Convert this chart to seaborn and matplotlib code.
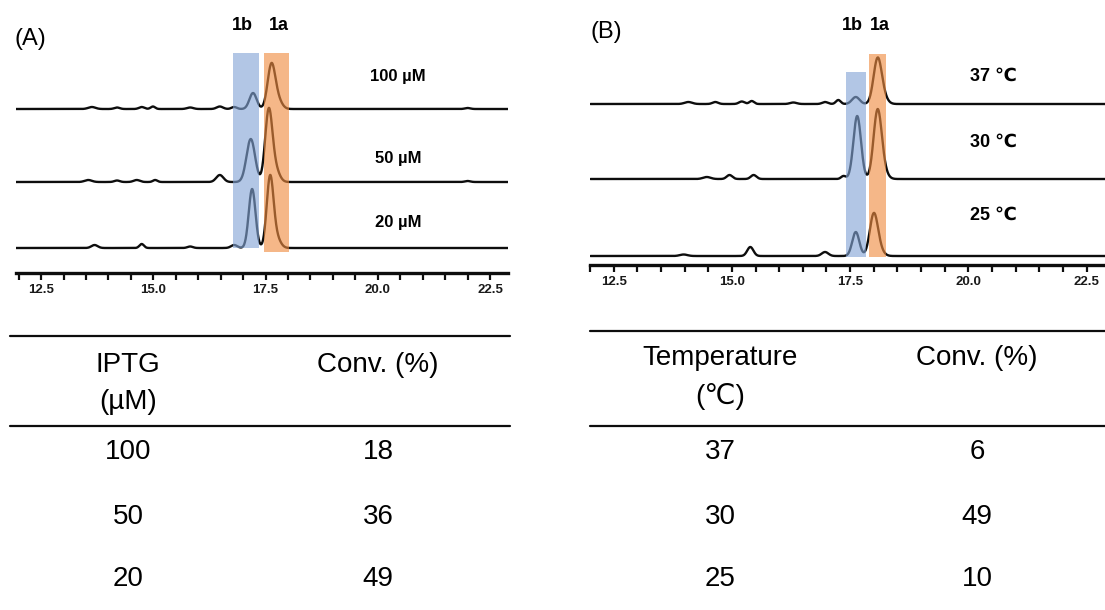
import numpy as np
import pandas as pd
import matplotlib
matplotlib.use("Agg")
import matplotlib.pyplot as plt
from matplotlib.lines import Line2D
import seaborn as sns

# ------------------------------------------------------------------ data
tick_major = [12.5, 15.0, 17.5, 20.0, 22.5]

# Panel A: chromatograms at different IPTG concentrations
A_labels = ["100 µM", "50 µM", "20 µM"]
A_baseline = [164, 91, 25]
A_rt = [
    [13.63, 14.19, 14.74, 14.99, 15.82, 16.48, 16.80, 17.22, 17.63, 17.78, 22.0],
    [13.55, 14.19, 14.63, 15.04, 16.48, 17.17, 17.57, 17.72, 22.0],
    [13.69, 14.74, 15.82, 16.80, 17.20, 17.60, 17.74],
]
A_height = [
    [2.0, 1.5, 2.0, 2.5, 1.5, 2.5, 2.0, 16, 44, 8, 1.0],
    [2.0, 1.5, 2.0, 2.0, 7.0, 43, 71, 12, 1.0],
    [3.0, 4.0, 1.5, 3.0, 59, 70, 10],
]
A_width = [
    [0.08, 0.06, 0.06, 0.05, 0.07, 0.07, 0.06, 0.08, 0.085, 0.09, 0.06],
    [0.08, 0.06, 0.07, 0.05, 0.08, 0.095, 0.08, 0.09, 0.06],
    [0.07, 0.05, 0.06, 0.07, 0.075, 0.075, 0.09],
]
A_band_1b = [16.77, 17.35, 25, 220]
A_band_1a = [17.46, 18.02, 21, 220]
A_iptg = ["100", "50", "20"]
A_conv = ["18", "36", "49"]

# Panel B: chromatograms at different temperatures
B_labels = ["37 ℃", "30 ℃", "25 ℃"]
B_baseline = [161, 86, 9]
B_rt = [
    [14.08, 14.65, 15.21, 15.42, 16.30, 16.97, 17.25, 17.62, 18.08, 18.20],
    [14.47, 14.95, 15.46, 17.36, 17.65, 18.08, 18.20],
    [13.98, 15.39, 16.97, 17.62, 18.00, 18.12],
]
B_height = [
    [2.0, 2.0, 2.5, 3.0, 1.5, 2.0, 4.0, 7, 44, 6],
    [2.0, 4.0, 4.0, 3.0, 63, 67, 7],
    [1.5, 9.0, 4.0, 24, 41, 5],
]
B_width = [
    [0.08, 0.06, 0.06, 0.05, 0.07, 0.06, 0.05, 0.08, 0.085, 0.09],
    [0.08, 0.06, 0.06, 0.05, 0.08, 0.085, 0.09],
    [0.08, 0.065, 0.07, 0.075, 0.085, 0.09],
]
B_band_1b = [17.42, 17.84, 8, 193]
B_band_1a = [17.90, 18.26, 8, 211]
B_temp = ["37", "30", "25"]
B_conv = ["6", "49", "10"]

# ------------------------------------------------------------------ style
sns.set_theme(style="ticks")
plt.rcParams["font.family"] = ["Liberation Sans", "DejaVu Sans"]
plt.rcParams["text.color"] = "black"
plt.rcParams["xtick.color"] = "black"
plt.rcParams["xtick.labelcolor"] = "black"

W, H = 1105, 610
fig = plt.figure(figsize=(W / 100, H / 100), dpi=100)
fig.patch.set_facecolor("white")


def fx(x):
    return x / W


def fy(y):
    return 1 - y / H


def txt(x, y, s, **kw):
    fig.text(fx(x), fy(y), s, ha="center", va="center", color="black", **kw)


BLUE = "#83A4D5"
ORANGE = "#F08C40"


def chrom_panel(rect_px, xlim, ylim, baselines, rts, hs, ws, band_b, band_a):
    left, top, right, bottom = rect_px
    ax = fig.add_axes([fx(left), fy(bottom), (right - left) / W, (bottom - top) / H])
    xs = np.linspace(xlim[0], xlim[1], 2000)
    frames = []
    for i, (b, rt, h, w) in enumerate(zip(baselines, rts, hs, ws)):
        sig = np.full_like(xs, float(b))
        for r, hh, ww in zip(rt, h, w):
            sig = sig + hh * np.exp(-0.5 * ((xs - r) / ww) ** 2)
        frames.append(pd.DataFrame({"t": xs, "s": sig, "trace": i}))
    df = pd.concat(frames)
    sns.lineplot(data=df, x="t", y="s", units="trace", estimator=None,
                 color="#0d0d0d", lw=1.7, ax=ax, sort=False, legend=False)
    for band, col in ((band_b, BLUE), (band_a, ORANGE)):
        ax.fill_between([band[0], band[1]], [band[2]] * 2, [band[3]] * 2,
                        color=col, alpha=0.62, lw=0, zorder=5)
    ax.set_xlim(*xlim)
    ax.set_ylim(*ylim)
    ax.set_xlabel("")
    ax.set_ylabel("")
    ax.set_yticks([])
    sns.despine(ax=ax, left=True)
    ax.spines["bottom"].set_linewidth(2.4)
    ax.spines["bottom"].set_color("#0d0d0d")
    ticks = np.arange(12.0, 23.0, 0.5)
    ax.set_xticks(ticks)
    ax.set_xticklabels([f"{t:.1f}" if t in tick_major else "" for t in ticks])
    ax.tick_params(axis="x", direction="out", length=5, width=1.6, pad=3,
                   labelsize=9.5, bottom=True, color="#0d0d0d", labelcolor="#1a1a1a")
    for lb in ax.get_xticklabels():
        lb.set_fontweight("bold")
    ax.set_facecolor("none")
    return ax


# Panel A chromatogram
chrom_panel((16, 20, 508, 273), (11.94, 22.90), (0, 253),
            A_baseline, A_rt, A_height, A_width, A_band_1b, A_band_1a)
# Panel B chromatogram
chrom_panel((590, 20, 1105, 265), (12.01, 22.89), (0, 245),
            B_baseline, B_rt, B_height, B_width, B_band_1b, B_band_1a)

# panel letters and peak names
txt(30, 39, "(A)", fontsize=17)
txt(606, 32, "(B)", fontsize=17)
txt(242, 26, "1b", fontsize=13, fontweight="bold")
txt(279, 26, "1a", fontsize=13, fontweight="bold")
txt(852, 25, "1b", fontsize=13, fontweight="bold")
txt(880, 25, "1a", fontsize=13, fontweight="bold")

for lab, y in zip(A_labels, [77, 158, 222]):
    txt(398, y, lab, fontsize=12, fontweight="bold")
for lab, y in zip(B_labels, [76, 142, 215]):
    txt(993, y, lab, fontsize=13, fontweight="bold")

# ------------------------------------------------------------------ tables
def hline(x0, x1, y):
    fig.add_artist(Line2D([fx(x0), fx(x1)], [fy(y), fy(y)], color="#0d0d0d", lw=1.6))


TS = 20
# table A
hline(10, 510, 336)
hline(10, 510, 426)
txt(128, 365, "IPTG", fontsize=TS)
txt(128, 402, "(µM)", fontsize=TS)
txt(378, 365, "Conv. (%)", fontsize=TS)
for a, c, y in zip(A_iptg, A_conv, [452, 517, 579]):
    txt(128, y, a, fontsize=TS)
    txt(378, y, c, fontsize=TS)

# table B
hline(590, 1105, 331)
hline(590, 1105, 426)
txt(720, 358, "Temperature", fontsize=TS)
txt(720, 397, "(℃)", fontsize=TS)
txt(977, 358, "Conv. (%)", fontsize=TS)
for a, c, y in zip(B_temp, B_conv, [452, 517, 579]):
    txt(720, y, a, fontsize=TS)
    txt(977, y, c, fontsize=TS)

fig.savefig("out.png", dpi=100, facecolor="white")
